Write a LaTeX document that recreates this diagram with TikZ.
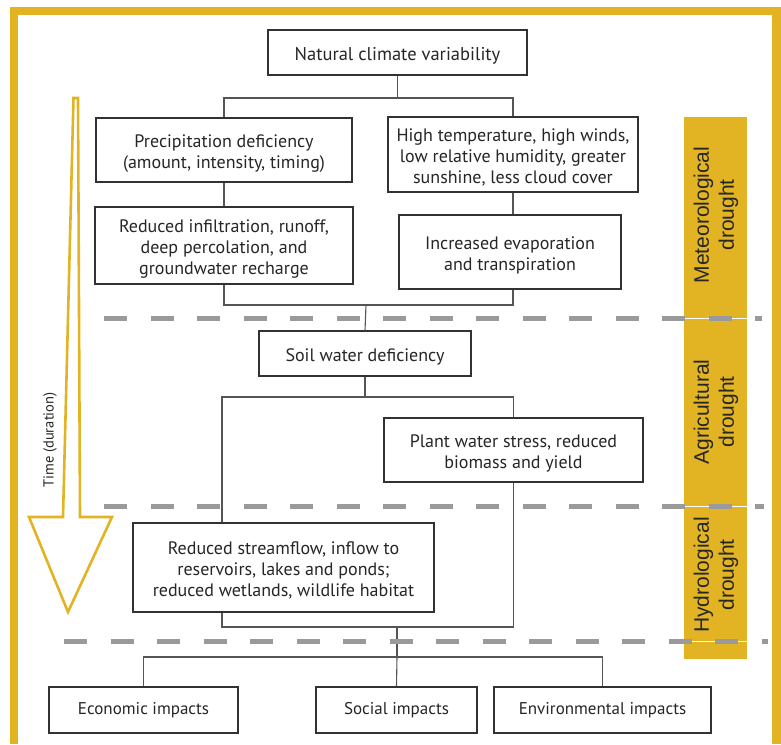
\documentclass[tikz,border=0pt]{standalone}
\usepackage{fontspec}
\setmainfont{PT Sans}
\newfontfamily\bandfont{Liberation Sans}
\definecolor{gold}{RGB}{226,180,36}
\definecolor{dashgray}{RGB}{154,154,156}
\definecolor{boxline}{RGB}{50,50,50}
\definecolor{conline}{RGB}{85,85,85}
\newcommand{\tstrut}{\rule{0pt}{19.5pt}}
\begin{document}
\begin{tikzpicture}[x=1pt,y=-1pt,
  box/.style={draw=boxline,line width=1.1pt,fill=white,align=center,inner sep=0pt,
    font=\fontsize{18}{21}\selectfont,text=black!85},
  smallbox/.style={box,font=\fontsize{17}{20}\selectfont},
  conn/.style={draw=conline,line width=1.1pt},
  gdash/.style={draw=dashgray,line width=5pt,dash pattern=on 23pt off 23.5pt},
  bandlabel/.style={rotate=90,align=center,font=\bandfont\fontsize{21}{25}\selectfont,text=black!85}]
\useasboundingbox (0,0) rectangle (781,744);
% frame
\draw[gold,line width=8.5pt] (14,744) -- (14,11) -- (776.5,11) -- (776.5,744);
% band
\fill[gold] (684,117) rectangle (747,659);
\node[bandlabel] (met) at (716,215) {Meteorological\\drought};
\node[bandlabel] (agr) at (716,412) {Agricultural\\drought};
\node[bandlabel] (hyd) at (716,575) {Hydrological\\drought};
% time arrow
\draw[gold,line width=2.6pt,fill=white,line join=miter] (73.5,98) -- (78,98) -- (80,517) -- (112,517) -- (68,612) -- (29,517) -- (63,517) -- cycle;
\node[rotate=90,font=\fontsize{14.5}{18}\selectfont,text=black!85] (time) at (50,440) {Time (duration)};
% boxes
\node[box,minimum width=259pt,minimum height=45pt,font=\fontsize{18.5}{21}\selectfont] (nat) at (397.5,52.5) {\tstrut Natural climate variability};
\node[box,minimum width=256pt,minimum height=64pt] (pre) at (224,150) {\tstrut Precipitation deficiency\\(amount, intensity, timing)};
\node[box,minimum width=258pt,minimum height=77pt] (red) at (224,245.5) {\tstrut Reduced infiltration, runoff,\\deep percolation, and\\groundwater recharge};
\node[box,minimum width=250pt,minimum height=75pt] (high) at (513,154.5) {\tstrut High temperature, high winds,\\low relative humidity, greater\\sunshine, less cloud cover};
\node[box,minimum width=222pt,minimum height=74pt] (evap) at (510,252) {\tstrut Increased evaporation\\and transpiration};
\node[box,minimum width=212pt,minimum height=45pt] (soil) at (365,353.5) {\tstrut Soil water deficiency};
\node[box,minimum width=259pt,minimum height=64pt] (plant) at (513.5,450) {\tstrut Plant water stress, reduced\\biomass and yield};
% connectors
\coordinate (j1) at (397.5,98);
\coordinate (j2) at (366,305);
\coordinate (j3) at (365,397);
\coordinate (j4) at (397,627);
\coordinate (j5) at (397,657);
\draw[conn] (nat.south) -- (j1);
\draw[conn] (pre.north) |- (j1) -| (high.north);
\draw[conn] (pre.south) -- (red.north);
\draw[conn] (high.south) -- (high.south |- evap.north);
\draw[conn] (red.south) |- (j2) -| (high.south |- evap.south);
\draw[conn] (j2) -- (soil.north);
\draw[conn] (soil.south) -- (j3);
\draw[conn] (j3) -| (222,627) -| (plant.south);
\draw[conn] (j3) -| (plant.north);
\draw[conn] (j4) -- (j5);
% hydrological box over connector
\node[box,minimum width=301pt,minimum height=89pt] (hydro) at (283.5,567.5) {\tstrut Reduced streamflow, inflow to\\reservoirs, lakes and ponds;\\reduced wetlands, wildlife habitat};
% bottom boxes
\node[smallbox,minimum width=189pt,minimum height=46pt] (econ) at (143.5,710) {Economic impacts};
\node[smallbox,minimum width=161pt,minimum height=46pt] (soc) at (396.5,710) {Social impacts};
\node[smallbox,minimum width=217pt,minimum height=46pt] (env) at (602.5,710) {Environmental impacts};
\draw[conn] (j5) -- (soc.north);
\draw[conn] (econ.north) |- (j5) -| (env.north);
% band separators
\foreach \yy in {318.5,506,641} {\draw[white,line width=0.8pt] (684,\yy) -- (747,\yy);}
\draw[gdash] (104,318.5) -- (762,318.5);
\draw[gdash] (104,506) -- (764,506);
\draw[gdash] (64,641) -- (768,641);
\end{tikzpicture}
\end{document}
